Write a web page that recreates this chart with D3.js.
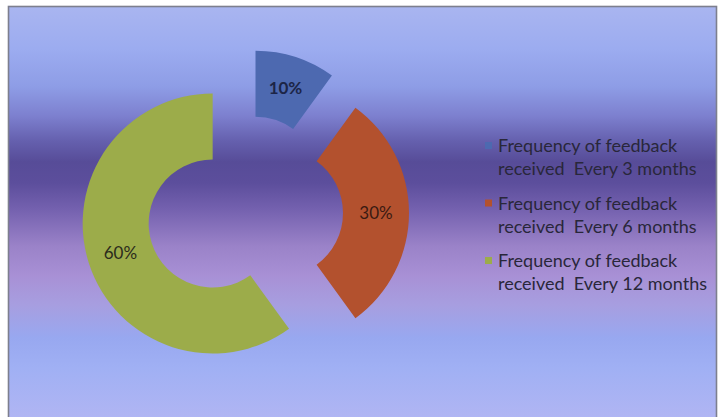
<!DOCTYPE html>
<html>
<head>
<meta charset="utf-8">
<script src="https://cdn.jsdelivr.net/npm/d3@7"></script>
<style>
  html, body { margin: 0; padding: 0; background: #ffffff; }
  svg { display: block; }
  text { white-space: pre; }
</style>
</head>
<body>
<svg id="chart" width="722" height="417"></svg>
<script>
// Feedback frequency shares
const categories = ["Every 3 months", "Every 6 months", "Every 12 months"];
const values = [10, 30, 60];
const valueLabels = ["10%", "30%", "60%"];
const legendPrefix = "Frequency of feedback";
const legendSecond = ["received  Every 3 months", "received  Every 6 months", "received  Every 12 months"];

const sliceColors = ["#4d69b0", "#b3512e", "#9cac4a"];
const labelColors = ["#1c2547", "#3a1a12", "#2b2b1c"];

const svg = d3.select("#chart");

// Background band gradient
const defs = svg.append("defs");
const grad = defs.append("linearGradient")
  .attr("id", "bg").attr("x1", 0).attr("y1", 0).attr("x2", 0).attr("y2", 1);
[
  [0.00, "#a9b5f0"], [0.10, "#9cacf0"], [0.19, "#8e9de6"], [0.26, "#7d80cf"],
  [0.32, "#6560ae"], [0.37, "#574c98"], [0.42, "#5c4e9c"], [0.48, "#7360ae"],
  [0.57, "#9a82c8"], [0.64, "#a890d5"], [0.71, "#a79ee0"], [0.79, "#98a8f0"],
  [0.86, "#a0b0f4"], [1.00, "#b3b6f3"]
].forEach(([o, c]) => grad.append("stop").attr("offset", o).attr("stop-color", c));

svg.append("rect")
  .attr("x", 8.5).attr("y", 6.5).attr("width", 708).attr("height", 420)
  .attr("fill", "url(#bg)")
  .attr("stroke", "#7d7f8e").attr("stroke-width", 1.6);

// Exploded doughnut
const cx = 245, cy = 213, explode = 34;
const outerR = 130, innerR = 64;

const pie = d3.pie().sort(null).value(d => d)(values);
const arc = d3.arc().innerRadius(innerR).outerRadius(outerR);

const slices = svg.append("g").attr("transform", `translate(${cx},${cy})`)
  .selectAll("g").data(pie).join("g")
  .attr("transform", d => {
    const a = (d.startAngle + d.endAngle) / 2;
    return `translate(${explode * Math.sin(a)},${-explode * Math.cos(a)})`;
  });

slices.append("path")
  .attr("d", arc)
  .attr("fill", (d, i) => sliceColors[i]);

slices.append("text")
  .attr("transform", d => `translate(${arc.centroid(d)})`)
  .attr("text-anchor", "middle")
  .attr("dy", "0.35em")
  .attr("font-family", "Lato, 'Open Sans', sans-serif")
  .attr("font-size", 17)
  .attr("font-weight", (d, i) => i === 0 ? 700 : 400)
  .attr("fill", (d, i) => labelColors[i])
  .text((d, i) => valueLabels[i]);

// Legend
const legend = svg.append("g").attr("transform", "translate(485,146)");
const items = legend.selectAll("g").data(categories).join("g")
  .attr("transform", (d, i) => `translate(0,${i * 57.5})`);

items.append("rect")
  .attr("x", 0).attr("y", -4).attr("width", 7).attr("height", 7)
  .attr("fill", (d, i) => sliceColors[i]);

const txt = items.append("text")
  .attr("x", 13).attr("y", 0)
  .attr("font-family", "Lato, 'Open Sans', sans-serif")
  .attr("font-size", 18)
  .attr("fill", "#29273a");

txt.append("tspan").attr("x", 13).attr("dy", "0.35em").text(legendPrefix);
txt.append("tspan").attr("x", 13).attr("dy", 23).text((d, i) => legendSecond[i]);
</script>
</body>
</html>
